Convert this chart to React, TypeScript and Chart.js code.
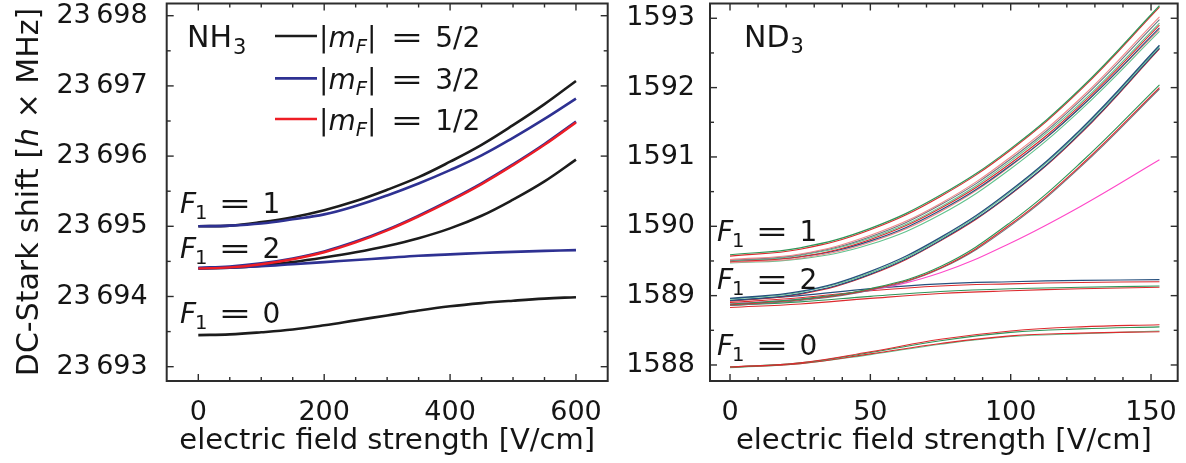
import { useEffect, useRef } from 'react';
import { Chart, registerables } from 'chart.js';

Chart.register(...registerables);

// ---------- NH3 panel: Stark shift vs. field (V/cm) ----------
const NH3_FIELD = [0, 50, 100, 150, 200, 250, 300, 350, 400, 450, 500, 550, 600];
const NH3_F1_1_MF52 = [23695.0, 23695.01, 23695.06, 23695.13, 23695.23, 23695.36, 23695.52, 23695.7, 23695.92, 23696.16, 23696.44, 23696.74, 23697.07];
const NH3_F1_1_MF32 = [23695.0, 23695.01, 23695.04, 23695.1, 23695.17, 23695.29, 23695.44, 23695.61, 23695.8, 23696.01, 23696.26, 23696.53, 23696.82];
const NH3_F1_2_MF12 = [23694.4, 23694.415, 23694.46, 23694.53, 23694.63, 23694.77, 23694.94, 23695.14, 23695.36, 23695.6, 23695.87, 23696.16, 23696.48];
const NH3_F1_2_MF32_UP = [23694.41, 23694.427, 23694.472, 23694.542, 23694.642, 23694.782, 23694.952, 23695.152, 23695.372, 23695.612, 23695.882, 23696.172, 23696.492];
const NH3_F1_2_MF52 = [23694.4, 23694.41, 23694.44, 23694.49, 23694.555, 23694.63, 23694.72, 23694.83, 23694.97, 23695.15, 23695.38, 23695.64, 23695.95];
const NH3_F1_2_MF32 = [23694.4, 23694.41, 23694.43, 23694.46, 23694.49, 23694.52, 23694.55, 23694.58, 23694.6, 23694.62, 23694.635, 23694.65, 23694.66];
const NH3_F1_0 = [23693.45, 23693.46, 23693.49, 23693.53, 23693.59, 23693.66, 23693.73, 23693.8, 23693.86, 23693.905, 23693.94, 23693.97, 23693.99];

const NH3_X_TICKS = [0, 200, 400, 600];
const NH3_X_TICK_LABELS = ['0', '200', '400', '600'];
const NH3_Y_TICKS = [23693, 23694, 23695, 23696, 23697, 23698];
const NH3_Y_TICK_LABELS = ['23\u2009693', '23\u2009694', '23\u2009695', '23\u2009696', '23\u2009697', '23\u2009698'];

// ---------- ND3 panel ----------
const ND3_FIELD = [0, 25, 50, 75, 100, 125, 153];
// F1 = 1 branch
const ND3_F1_1_L1 = [1589.59, 1589.69, 1589.97, 1590.45, 1591.12, 1591.99, 1593.18];
const ND3_F1_1_L2 = [1589.57, 1589.67, 1589.95, 1590.43, 1591.1, 1591.97, 1593.16];
const ND3_F1_1_L3 = [1589.52, 1589.6, 1589.87, 1590.33, 1591.0, 1591.85, 1593.02];
const ND3_F1_1_L4 = [1589.51, 1589.59, 1589.85, 1590.31, 1590.97, 1591.82, 1592.98];
const ND3_F1_1_L5 = [1589.5, 1589.58, 1589.83, 1590.28, 1590.94, 1591.78, 1592.93];
const ND3_F1_1_L6 = [1589.49, 1589.56, 1589.81, 1590.26, 1590.91, 1591.75, 1592.9];
const ND3_F1_1_L7 = [1589.5, 1589.56, 1589.79, 1590.23, 1590.88, 1591.72, 1592.86];
const ND3_F1_1_L8 = [1589.48, 1589.54, 1589.77, 1590.21, 1590.87, 1591.72, 1592.84];
const ND3_F1_1_L9 = [1589.47, 1589.53, 1589.74, 1590.17, 1590.83, 1591.68, 1592.81];
// F1 = 2 branch, strongly rising
const ND3_F1_2_S1 = [1588.96, 1589.06, 1589.35, 1589.84, 1590.52, 1591.4, 1592.61];
const ND3_F1_2_S2 = [1588.95, 1589.05, 1589.33, 1589.82, 1590.5, 1591.38, 1592.59];
const ND3_F1_2_S3 = [1588.93, 1589.03, 1589.31, 1589.8, 1590.47, 1591.35, 1592.57];
const ND3_F1_2_S4 = [1588.92, 1589.02, 1589.3, 1589.79, 1590.46, 1591.34, 1592.56];
// F1 = 2 branch, late rising
const ND3_F1_2_M1 = [1588.88, 1588.95, 1589.1, 1589.42, 1590.06, 1590.92, 1592.04];
const ND3_F1_2_M2 = [1588.87, 1588.94, 1589.09, 1589.4, 1590.03, 1590.88, 1592.0];
const ND3_F1_2_M3 = [1588.86, 1588.93, 1589.08, 1589.39, 1590.01, 1590.86, 1591.98];
const ND3_F1_2_PINK = [1588.88, 1588.95, 1589.08, 1589.33, 1589.76, 1590.29, 1590.96];
// F1 = 2 branch, saturating
const ND3_F1_2_F1 = [1588.93, 1589.0, 1589.1, 1589.17, 1589.2, 1589.22, 1589.23];
const ND3_F1_2_F2 = [1588.9, 1588.97, 1589.07, 1589.14, 1589.17, 1589.19, 1589.2];
const ND3_F1_2_F3 = [1588.86, 1588.91, 1588.99, 1589.06, 1589.1, 1589.12, 1589.14];
const ND3_F1_2_F4 = [1588.83, 1588.88, 1588.96, 1589.03, 1589.07, 1589.1, 1589.12];
// F1 = 0 branch
const ND3_F1_0_L1 = [1587.97, 1588.03, 1588.19, 1588.37, 1588.49, 1588.55, 1588.58];
const ND3_F1_0_L2 = [1587.97, 1588.03, 1588.18, 1588.35, 1588.47, 1588.52, 1588.55];
const ND3_F1_0_L3 = [1587.97, 1588.02, 1588.16, 1588.31, 1588.42, 1588.46, 1588.48];
const ND3_F1_0_L4 = [1587.96, 1588.02, 1588.15, 1588.3, 1588.41, 1588.45, 1588.49];

const ND3_X_TICKS = [0, 50, 100, 150];
const ND3_X_TICK_LABELS = ['0', '50', '100', '150'];
const ND3_Y_TICKS = [1588, 1589, 1590, 1591, 1592, 1593];
const ND3_Y_TICK_LABELS = ['1588', '1589', '1590', '1591', '1592', '1593'];

const LEGEND_MF = ['5/2', '3/2', '1/2'];
const F1_VALUES = ['1', '2', '0'];
const X_TITLE = 'electric field strength [V/cm]';

// ---------- styling ----------
const FONT = '"DejaVu Sans", sans-serif';
const INK = '#151515';
const FRAME = '#2d2d2d';
const NH3_BLACK = '#1c1c1c';
const NH3_BLUE = '#2e3192';
const NH3_RED = '#ee1d25';
const C_RED = '#dd2a2e';
const C_SALMON = '#f0878a';
const C_GREEN = '#2f9558';
const C_LGREEN = '#62c28e';
const C_BLUE = '#26507e';
const C_GRAY = '#6e7780';
const C_PINK = '#ff48c8';

type Piece = { t: string; it?: boolean; sub?: boolean; dx?: number; scaleX?: number };

function drawRich(ctx: CanvasRenderingContext2D, pieces: Piece[], x: number, y: number, size: number) {
  let cx = x;
  ctx.textBaseline = 'alphabetic';
  ctx.textAlign = 'left';
  for (const p of pieces) {
    cx += p.dx ?? 0;
    const s = p.sub ? size * 0.7 : size;
    ctx.font = `${p.it ? 'italic ' : ''}${s}px ${FONT}`;
    const sx = p.scaleX ?? 1;
    const by = p.sub ? y + size * 0.23 : y;
    if (sx !== 1) {
      ctx.save();
      ctx.translate(cx, by);
      ctx.scale(sx, 1);
      ctx.fillText(p.t, 0, 0);
      ctx.restore();
    } else {
      ctx.fillText(p.t, cx, by);
    }
    cx += ctx.measureText(p.t).width * sx;
  }
  return cx - x;
}

function f1Label(v: string): Piece[] {
  return [
    { t: 'F', it: true },
    { t: '1', sub: true, dx: -1 },
    { t: '=', dx: 11, scaleX: 1.4 },
    { t: v, dx: 11 },
  ];
}

function steps(min: number, max: number, step: number) {
  const out: number[] = [];
  for (let k = Math.ceil(min / step - 1e-9); k * step <= max + 1e-9; k++) out.push(Math.round(k * step * 1000) / 1000);
  return out;
}

type PanelSpec = {
  offset: number;
  width: number;
  height: number;
  area: { left: number; right: number; top: number; bottom: number };
  xMin: number;
  xMax: number;
  yMin: number;
  yMax: number;
  xTicks: number[];
  xTickLabels: string[];
  yTicks: number[];
  yTickLabels: string[];
  xMinor: number;
  yMinor: number;
  yLabelPad: number;
  datasets: any[];
  decorate: (ctx: CanvasRenderingContext2D, chart: Chart) => void;
};

function series(xs: number[], ys: number[], color: string, width: number) {
  return {
    data: xs.map((x, i) => ({ x, y: ys[i] })),
    borderColor: color,
    backgroundColor: color,
    borderWidth: width,
    pointRadius: 0,
    fill: false,
    tension: 0.4,
  };
}

function framePlugin(spec: PanelSpec) {
  return {
    id: 'panelFrame',
    afterDatasetsDraw(chart: Chart) {
      const { ctx, chartArea: a } = chart;
      const xs = chart.scales.x;
      const ys = chart.scales.y;
      ctx.save();
      ctx.strokeStyle = FRAME;
      ctx.lineWidth = 1.4;
      const seg = (x1: number, y1: number, x2: number, y2: number) => {
        ctx.beginPath();
        ctx.moveTo(x1, y1);
        ctx.lineTo(x2, y2);
        ctx.stroke();
      };
      for (const v of steps(spec.xMin, spec.xMax, spec.xMinor)) {
        const p = xs.getPixelForValue(v);
        if (p < a.left + 2 || p > a.right - 2) continue;
        const len = spec.xTicks.includes(v) ? 7 : 4;
        seg(p, a.bottom, p, a.bottom - len);
        seg(p, a.top, p, a.top + len);
      }
      for (const v of steps(spec.yMin, spec.yMax, spec.yMinor)) {
        const p = ys.getPixelForValue(v);
        if (p < a.top + 2 || p > a.bottom - 2) continue;
        const len = spec.yTicks.includes(v) ? 7 : 4;
        seg(a.left, p, a.left + len, p);
        seg(a.right, p, a.right - len, p);
      }
      ctx.lineWidth = 2;
      ctx.strokeRect(a.left, a.top, a.right - a.left, a.bottom - a.top);
      ctx.restore();
    },
  };
}

function textPlugin(spec: PanelSpec) {
  return {
    id: 'panelText',
    afterDraw(chart: Chart) {
      const ctx = chart.ctx;
      ctx.save();
      ctx.fillStyle = INK;
      spec.decorate(ctx, chart);
      const a = chart.chartArea;
      ctx.font = `29px ${FONT}`;
      ctx.textAlign = 'center';
      ctx.textBaseline = 'alphabetic';
      ctx.fillText(X_TITLE, (a.left + a.right) / 2, 448.5);
      ctx.restore();
    },
  };
}

function Panel({ spec }: { spec: PanelSpec }) {
  const ref = useRef<HTMLCanvasElement>(null);
  useEffect(() => {
    const canvas = ref.current!;
    const font = { family: FONT, size: 27 };
    const chart = new Chart(canvas, {
      type: 'line',
      data: { datasets: spec.datasets },
      options: {
        animation: false,
        responsive: false,
        events: [],
        layout: { padding: { left: 0, top: spec.area.top, right: spec.width - spec.area.right, bottom: 0 } },
        plugins: { legend: { display: false }, tooltip: { enabled: false } },
        scales: {
          x: {
            type: 'linear',
            min: spec.xMin,
            max: spec.xMax,
            grid: { display: false },
            border: { display: false },
            ticks: {
              autoSkip: false,
              maxRotation: 0,
              padding: 8,
              color: INK,
              font,
              callback: (v: any) => spec.xTickLabels[spec.xTicks.indexOf(Number(v))] ?? '',
            },
            afterBuildTicks: (s: any) => {
              s.ticks = spec.xTicks.map((value) => ({ value }));
            },
            afterFit: (s: any) => {
              s.height = spec.height - spec.area.bottom;
              s.paddingLeft = 0;
              s.paddingRight = 0;
            },
          },
          y: {
            type: 'linear',
            min: spec.yMin,
            max: spec.yMax,
            grid: { display: false },
            border: { display: false },
            ticks: {
              autoSkip: false,
              padding: spec.yLabelPad,
              color: INK,
              font,
              callback: (v: any) => spec.yTickLabels[spec.yTicks.indexOf(Number(v))] ?? '',
            },
            afterBuildTicks: (s: any) => {
              s.ticks = spec.yTicks.map((value) => ({ value }));
            },
            afterFit: (s: any) => {
              s.width = spec.area.left;
              s.paddingTop = 0;
              s.paddingBottom = 0;
            },
          },
        },
      },
      plugins: [framePlugin(spec), textPlugin(spec)],
    } as any);
    return () => chart.destroy();
  }, [spec]);
  return (
    <canvas
      ref={ref}
      width={spec.width}
      height={spec.height}
      style={{ position: 'absolute', left: spec.offset, top: 0, width: spec.width, height: spec.height }}
    />
  );
}

const nh3Spec: PanelSpec = {
  offset: 0,
  width: 620,
  height: 463,
  area: { left: 166.7, right: 607.7, top: 3.5, bottom: 381 },
  xMin: -50.2,
  xMax: 650.4,
  yMin: 23692.796,
  yMax: 23698.174,
  xTicks: NH3_X_TICKS,
  xTickLabels: NH3_X_TICK_LABELS,
  yTicks: NH3_Y_TICKS,
  yTickLabels: NH3_Y_TICK_LABELS,
  xMinor: 50,
  yMinor: 0.5,
  yLabelPad: 11,
  datasets: [
    series(NH3_FIELD, NH3_F1_2_MF12, NH3_RED, 2.4),
    series(NH3_FIELD, NH3_F1_2_MF32_UP, NH3_BLUE, 2.6),
    series(NH3_FIELD, NH3_F1_1_MF32, NH3_BLUE, 2.6),
    series(NH3_FIELD, NH3_F1_2_MF32, NH3_BLUE, 2.6),
    series(NH3_FIELD, NH3_F1_1_MF52, NH3_BLACK, 2.6),
    series(NH3_FIELD, NH3_F1_2_MF52, NH3_BLACK, 2.6),
    series(NH3_FIELD, NH3_F1_0, NH3_BLACK, 2.6),
  ],
  decorate: (ctx) => {
    // molecule tag
    drawRich(ctx, [{ t: 'NH' }, { t: '3', sub: true, dx: 1 }], 187, 46.7, 30);
    // |m_F| legend
    const rows = [36, 78.3, 119];
    const colors = [NH3_BLACK, NH3_BLUE, NH3_RED];
    rows.forEach((ry, i) => {
      ctx.save();
      ctx.strokeStyle = colors[i];
      ctx.lineWidth = 2.7;
      ctx.beginPath();
      ctx.moveTo(275, ry);
      ctx.lineTo(317, ry);
      ctx.stroke();
      ctx.restore();
      drawRich(
        ctx,
        [
          { t: '|' },
          { t: 'm', it: true },
          { t: 'F', it: true, sub: true },
          { t: '|' },
          { t: '=', dx: 14, scaleX: 1.4 },
          { t: LEGEND_MF[i], dx: 12 },
        ],
        319,
        ry + 10.6,
        28
      );
    });
    // hyperfine level tags
    const base = [212.6, 257.6, 322.7];
    F1_VALUES.forEach((v, i) => drawRich(ctx, f1Label(v), 180, base[i], 28));
    // vertical axis title
    ctx.save();
    ctx.translate(38, 192);
    ctx.rotate(-Math.PI / 2);
    const title: Piece[] = [{ t: 'DC-Stark shift [' }, { t: 'h', it: true }, { t: ' \u00d7 MHz]' }];
    ctx.font = `30px ${FONT}`;
    const w1 = ctx.measureText('DC-Stark shift [').width + ctx.measureText(' \u00d7 MHz]').width;
    ctx.font = `italic 30px ${FONT}`;
    const w = w1 + ctx.measureText('h').width;
    drawRich(ctx, title, -w / 2, 0, 30);
    ctx.restore();
  },
};

const ND3_OFFSET = 620;

const nd3Spec: PanelSpec = {
  offset: ND3_OFFSET,
  width: 566,
  height: 463,
  area: { left: 90, right: 557.7, top: 3.5, bottom: 381 },
  xMin: -7.13,
  xMax: 159.5,
  yMin: 1587.769,
  yMax: 1593.213,
  xTicks: ND3_X_TICKS,
  xTickLabels: ND3_X_TICK_LABELS,
  yTicks: ND3_Y_TICKS,
  yTickLabels: ND3_Y_TICK_LABELS,
  xMinor: 10,
  yMinor: 0.5,
  yLabelPad: 7,
  datasets: [
    series(ND3_FIELD, ND3_F1_1_L1, C_GREEN, 1.2),
    series(ND3_FIELD, ND3_F1_1_L2, C_RED, 1.1),
    series(ND3_FIELD, ND3_F1_1_L3, C_SALMON, 1.1),
    series(ND3_FIELD, ND3_F1_1_L4, C_GRAY, 1.1),
    series(ND3_FIELD, ND3_F1_1_L5, C_LGREEN, 1.1),
    series(ND3_FIELD, ND3_F1_1_L6, C_RED, 1.1),
    series(ND3_FIELD, ND3_F1_1_L7, C_BLUE, 1.1),
    series(ND3_FIELD, ND3_F1_1_L8, C_SALMON, 1.1),
    series(ND3_FIELD, ND3_F1_1_L9, C_LGREEN, 1.1),
    series(ND3_FIELD, ND3_F1_2_S1, C_BLUE, 1.3),
    series(ND3_FIELD, ND3_F1_2_S2, C_LGREEN, 1.1),
    series(ND3_FIELD, ND3_F1_2_S3, C_BLUE, 1.2),
    series(ND3_FIELD, ND3_F1_2_S4, C_RED, 1.1),
    series(ND3_FIELD, ND3_F1_2_M1, C_GREEN, 1.1),
    series(ND3_FIELD, ND3_F1_2_M2, C_RED, 1.1),
    series(ND3_FIELD, ND3_F1_2_M3, C_GRAY, 1.1),
    series(ND3_FIELD, ND3_F1_2_PINK, C_PINK, 1.1),
    series(ND3_FIELD, ND3_F1_2_F1, C_BLUE, 1.2),
    series(ND3_FIELD, ND3_F1_2_F2, C_RED, 1.1),
    series(ND3_FIELD, ND3_F1_2_F3, C_GREEN, 1.1),
    series(ND3_FIELD, ND3_F1_2_F4, C_RED, 1.1),
    series(ND3_FIELD, ND3_F1_0_L1, C_RED, 1.1),
    series(ND3_FIELD, ND3_F1_0_L2, C_GREEN, 1.1),
    series(ND3_FIELD, ND3_F1_0_L3, C_RED, 1.1),
    series(ND3_FIELD, ND3_F1_0_L4, C_LGREEN, 1.1),
  ],
  decorate: (ctx) => {
    drawRich(ctx, [{ t: 'ND' }, { t: '3', sub: true, dx: 1 }], 744 - ND3_OFFSET, 46.5, 30);
    const base = [240.6, 288.7, 355];
    F1_VALUES.forEach((v, i) => drawRich(ctx, f1Label(v), 717 - ND3_OFFSET, base[i], 28));
  },
};

export default function App() {
  return (
    <div style={{ position: 'absolute', left: 0, top: 0, width: 1186, height: 463, background: '#fff' }}>
      <Panel spec={nh3Spec} />
      <Panel spec={nd3Spec} />
    </div>
  );
}
